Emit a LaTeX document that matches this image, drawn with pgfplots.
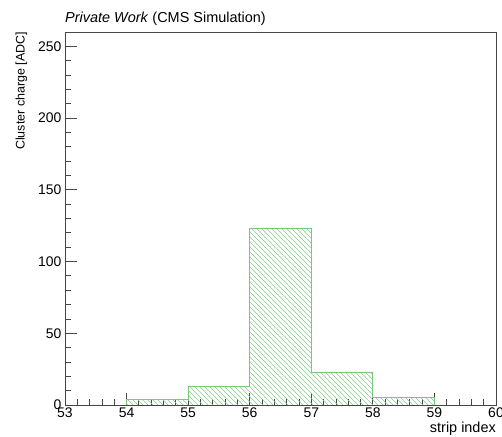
\documentclass[border=0pt]{standalone}
\usepackage{pgfplots}
\pgfplotsset{compat=1.18}
\usepackage{fontspec}
\setmainfont{Liberation Sans}
\usetikzlibrary{patterns}
\definecolor{histgreen}{RGB}{120,200,120}
\definecolor{hatchgreen}{RGB}{135,205,135}
\definecolor{framegray}{RGB}{70,70,70}

% diagonal hatching, upper left to lower right, 5bp apart
\pgfdeclarepatternformonly{hatchnw}{\pgfqpoint{-1bp}{-1bp}}{\pgfqpoint{6bp}{6bp}}{\pgfqpoint{5bp}{5bp}}{
  \pgfsetlinewidth{0.65bp}
  \pgfpathmoveto{\pgfqpoint{-0.1bp}{5.1bp}}
  \pgfpathlineto{\pgfqpoint{5.1bp}{-0.1bp}}
  \pgfusepath{stroke}
}

\begin{document}
\begin{tikzpicture}[x=1bp,y=1bp]
\useasboundingbox (0,0) rectangle (502,437);
\begin{axis}[
  at={(65bp,32bp)}, anchor=south west,
  scale only axis,
  width=431bp, height=373bp,
  xmin=53, xmax=60, ymin=0, ymax=260,
  xtick={53,...,60}, ytick={0,50,...,250},
  minor x tick num=4, minor y tick num=4,
  tick align=inside,
  xtick pos=bottom, ytick pos=left,
  major tick length=12bp, minor tick length=6bp,
  axis line style={framegray, line width=0.9pt},
  every tick/.style={framegray, line width=0.8pt},
  /pgf/number format/assume math mode=true,
  tick label style={font=\fontsize{14}{16}\selectfont},
  xticklabel style={yshift=1bp},
  xlabel={strip index},
  ylabel={Cluster charge [ADC]},
  xlabel style={font=\fontsize{14.5}{16}\selectfont, at={(axis description cs:1,0)}, anchor=north east, yshift=-17bp, inner sep=0pt},
  ylabel style={font=\fontsize{12.5}{14}\selectfont, at={(axis description cs:-0.08,1)}, anchor=south east, yshift=3bp, inner sep=0pt},
  clip=false,
]
% histogram as a single step outline with hatched fill
\addplot[const plot mark left, draw=histgreen, line width=0.9pt,
  pattern=hatchnw, pattern color=hatchgreen]
  coordinates {(54,0) (54,4) (55,13) (56,123) (57,23) (58,5) (59,5) (59,0)};
\node[anchor=south west, inner sep=0pt, font=\fontsize{14.5}{17}\selectfont]
  at (axis description cs:0,1) [yshift=6bp] {\textit{Private Work} (CMS Simulation)};
\end{axis}
\end{tikzpicture}
\end{document}
